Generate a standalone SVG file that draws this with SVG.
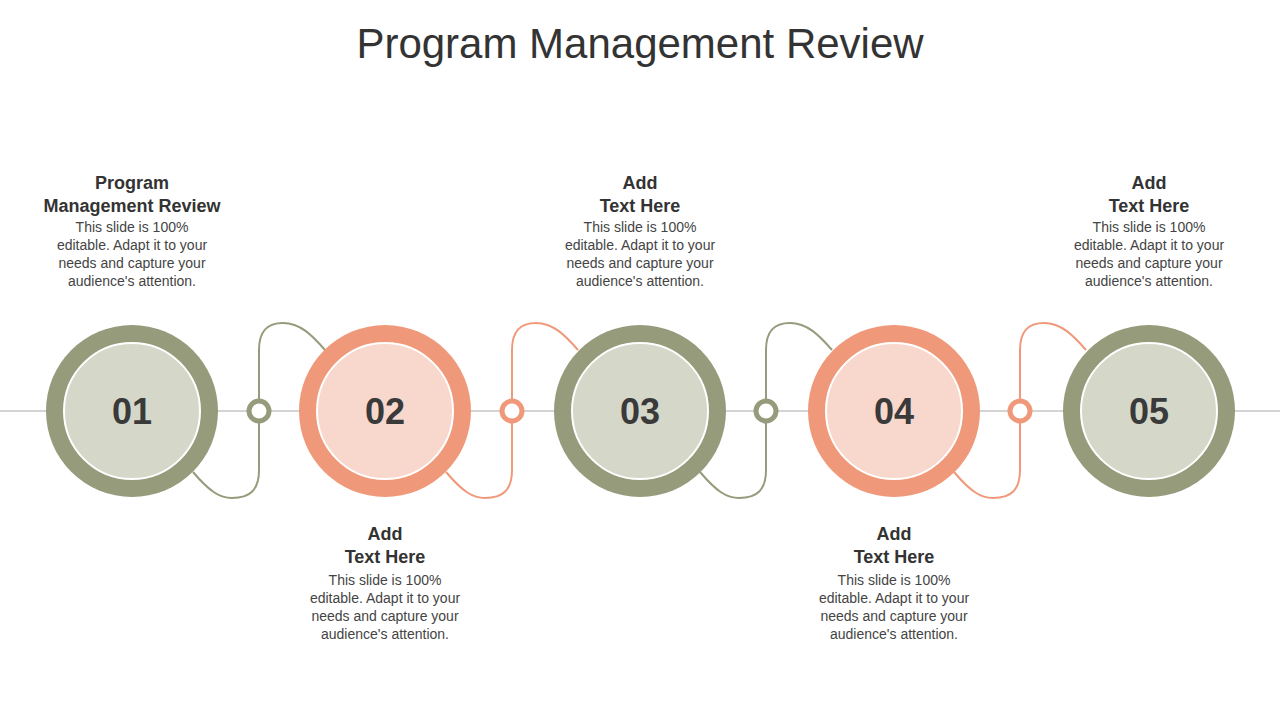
<svg xmlns="http://www.w3.org/2000/svg" width="1280" height="720" viewBox="0 0 1280 720">
<style>
.t{font-family:"Liberation Sans",Arial,sans-serif;fill:#333;text-anchor:middle}
.h{font-size:18px;font-weight:bold}
.b{font-size:14px;fill:#444}
.n{font-family:"Liberation Sans",Arial,sans-serif;font-size:36px;font-weight:bold;fill:#3a3a3a;text-anchor:middle}
.g{fill:#959b7b}.gi{fill:#d5d8c9;stroke:#fff;stroke-width:2}
.o{fill:#f0997a}.oi{fill:#f8d8cc;stroke:#fff;stroke-width:2}
.cg{fill:none;stroke:#959b7b;stroke-width:2}.co{fill:none;stroke:#f0997a;stroke-width:2}
.rg{fill:#fff;stroke:#959b7b;stroke-width:5}.ro{fill:#fff;stroke:#f0997a;stroke-width:5}
</style>
<rect width="1280" height="720" fill="#fff"/>
<text class="t" x="640" y="58" font-size="42" fill="#222">Program Management Review</text>
<g id="connectors">
<line x1="0" y1="411" x2="1280" y2="411" stroke="#aaa" stroke-width="1.2"/>
<path class="cg" d="M193,472 C210,492 220,498 232,498 C250,498 259,490 259,470 L259,350 C259,330 268,323 283,323 C300,323 312,335 325,350"/>
<path class="co" d="M446,472 C463,492 473,498 485,498 C503,498 512,490 512,470 L512,350 C512,330 521,323 536,323 C553,323 565,335 578,350"/>
<path class="cg" d="M700,472 C717,492 727,498 739,498 C757,498 766,490 766,470 L766,350 C766,330 775,323 790,323 C807,323 819,335 832,350"/>
<path class="co" d="M954,472 C971,492 981,498 993,498 C1011,498 1020,490 1020,470 L1020,350 C1020,330 1029,323 1044,323 C1061,323 1073,335 1086,350"/>
<circle class="rg" cx="259" cy="411" r="10"/>
<circle class="ro" cx="512" cy="411" r="10"/>
<circle class="rg" cx="766" cy="411" r="10"/>
<circle class="ro" cx="1020" cy="411" r="10"/>
</g>
<g id="n1"><circle class="g" cx="132" cy="411" r="86"/><circle class="gi" cx="132" cy="411" r="68"/><text class="n" x="132" y="424">01</text>
<text class="t h" x="132" y="189">Program</text><text class="t h" x="132" y="212">Management Review</text>
<text class="t b" x="132" y="232">This slide is 100%</text><text class="t b" x="132" y="250">editable. Adapt it to your</text><text class="t b" x="132" y="268">needs and capture your</text><text class="t b" x="132" y="286">audience's attention.</text></g>
<g id="n2"><circle class="o" cx="385" cy="411" r="86"/><circle class="oi" cx="385" cy="411" r="68"/><text class="n" x="385" y="424">02</text>
<text class="t h" x="385" y="540">Add</text><text class="t h" x="385" y="563">Text Here</text>
<text class="t b" x="385" y="585">This slide is 100%</text><text class="t b" x="385" y="603">editable. Adapt it to your</text><text class="t b" x="385" y="621">needs and capture your</text><text class="t b" x="385" y="639">audience's attention.</text></g>
<g id="n3"><circle class="g" cx="640" cy="411" r="86"/><circle class="gi" cx="640" cy="411" r="68"/><text class="n" x="640" y="424">03</text>
<text class="t h" x="640" y="189">Add</text><text class="t h" x="640" y="212">Text Here</text>
<text class="t b" x="640" y="232">This slide is 100%</text><text class="t b" x="640" y="250">editable. Adapt it to your</text><text class="t b" x="640" y="268">needs and capture your</text><text class="t b" x="640" y="286">audience's attention.</text></g>
<g id="n4"><circle class="o" cx="894" cy="411" r="86"/><circle class="oi" cx="894" cy="411" r="68"/><text class="n" x="894" y="424">04</text>
<text class="t h" x="894" y="540">Add</text><text class="t h" x="894" y="563">Text Here</text>
<text class="t b" x="894" y="585">This slide is 100%</text><text class="t b" x="894" y="603">editable. Adapt it to your</text><text class="t b" x="894" y="621">needs and capture your</text><text class="t b" x="894" y="639">audience's attention.</text></g>
<g id="n5"><circle class="g" cx="1149" cy="411" r="86"/><circle class="gi" cx="1149" cy="411" r="68"/><text class="n" x="1149" y="424">05</text>
<text class="t h" x="1149" y="189">Add</text><text class="t h" x="1149" y="212">Text Here</text>
<text class="t b" x="1149" y="232">This slide is 100%</text><text class="t b" x="1149" y="250">editable. Adapt it to your</text><text class="t b" x="1149" y="268">needs and capture your</text><text class="t b" x="1149" y="286">audience's attention.</text></g>
</svg>
